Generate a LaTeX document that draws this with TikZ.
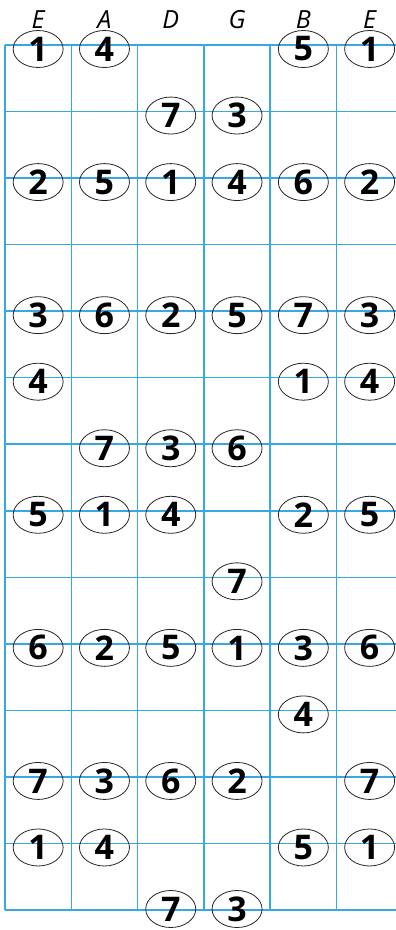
\documentclass[tikz,border=0pt]{standalone}
\usepackage{fontspec}
\setmainfont{Open Sans}
\usepackage{xcolor}
\usetikzlibrary{positioning, shapes.geometric}
\definecolor{fretblue}{RGB}{55,168,228}

\begin{document}
\begin{tikzpicture}[x=1pt, y=-1pt, every node/.style={font=\sffamily},
  note/.style={ellipse, draw=black!85, line width=0.8pt, minimum width=50pt, minimum height=37pt,
    inner sep=0pt, font=\bfseries\fontsize{34}{34}\selectfont},
  strlab/.style={font=\itshape\fontsize{25}{25}\selectfont, inner sep=0pt}]
\pgfmathsetmacro{\cw}{66.3}
\pgfmathsetmacro{\rh}{66.54}
\useasboundingbox (0,0) rectangle (396,930);

% Fret lines (horizontal)
\foreach \k in {0,...,13} {
  \draw[fretblue, line width=1.5pt] (5,{45+\k*\rh}) -- (396,{45+\k*\rh});
}
% String lines (vertical)
\foreach \i in {0,...,5} {
  \draw[fretblue, line width=1.5pt] ({5+\i*\cw},45) -- ({5+\i*\cw},{45+13*\rh});
}

% String names
\foreach \i/\lab in {0/E,1/A,2/D,3/G,4/B,5/E} {
  \node[strlab] (s\i) at ({5+\cw/2+\i*\cw},20) {\lab};
}

% Scale degrees: fret / string / degree
\foreach \k/\i/\d in {
  0/0/1, 0/1/4, 0/4/5, 0/5/1,
  1/2/7, 1/3/3,
  2/0/2, 2/1/5, 2/2/1, 2/3/4, 2/4/6, 2/5/2,
  4/0/3, 4/1/6, 4/2/2, 4/3/5, 4/4/7, 4/5/3,
  5/0/4, 5/4/1, 5/5/4,
  6/1/7, 6/2/3, 6/3/6,
  7/0/5, 7/1/1, 7/2/4, 7/4/2, 7/5/5,
  8/3/7,
  9/0/6, 9/1/2, 9/2/5, 9/3/1, 9/4/3, 9/5/6,
  10/4/4,
  11/0/7, 11/1/3, 11/2/6, 11/3/2, 11/5/7,
  12/0/1, 12/1/4, 12/4/5, 12/5/1,
  13/2/7, 13/3/3%
} {
  % last row sits a little higher so it stays on the page
  \pgfmathsetmacro{\yc}{min(49+\k*\rh,909)}
  \node[note] (n\k-\i) at ({5+\cw/2+\i*\cw},\yc) {\d};
}

\end{tikzpicture}
\end{document}
